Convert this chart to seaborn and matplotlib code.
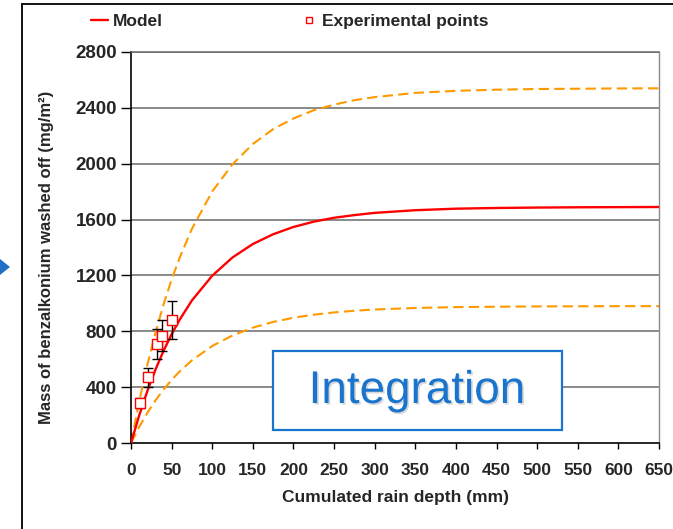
import matplotlib
matplotlib.use("Agg")
import matplotlib.pyplot as plt
import matplotlib.patches as mpatches
import matplotlib.patheffects as pe
from matplotlib.lines import Line2D
import seaborn as sns
import pandas as pd

# ---- data ----
rain_mm = [0, 10, 20, 30, 40, 50, 60, 75, 100, 125, 150, 175, 200, 225, 250, 275,
           300, 350, 400, 450, 500, 550, 600, 650]
model_mass = [0, 196, 370, 524, 659, 779, 884, 1021, 1198, 1329, 1425, 1495, 1547,
              1585, 1613, 1632, 1648, 1667, 1678, 1683, 1686, 1688, 1689, 1690]
upper_mass = [0, 295, 556, 787, 991, 1171, 1328, 1534, 1801, 1996, 2141, 2248, 2324,
              2383, 2423, 2455, 2477, 2507, 2522, 2530, 2535, 2537, 2539, 2540]
lower_mass = [0, 114, 215, 304, 382, 452, 513, 592, 695, 770, 826, 867, 897,
              919, 935, 947, 956, 967, 973, 976, 978, 979, 980, 980]

exp_rain = [11, 20.5, 31.5, 38.5, 50]
exp_mass = [284, 470, 708, 768, 880]
exp_err = [35, 67, 108, 110, 135]

x_ticks = [0, 50, 100, 150, 200, 250, 300, 350, 400, 450, 500, 550, 600, 650]
y_ticks = [0, 400, 800, 1200, 1600, 2000, 2400, 2800]

# ---- style ----
sns.set_theme(style="white")
plt.rcParams['font.family'] = ['Liberation Sans', 'DejaVu Sans']
plt.rcParams['font.weight'] = 'bold'

W, H = 673, 529
fig = plt.figure(figsize=(W / 100, H / 100), dpi=100)
ax = fig.add_axes([131 / W, 1 - 443 / H, (659 - 131) / W, (443 - 52) / H])

df = pd.DataFrame({"rain": rain_mm, "model": model_mass,
                   "upper": upper_mass, "lower": lower_mass})
exp_df = pd.DataFrame({"rain": exp_rain, "mass": exp_mass, "err": exp_err})

# grid
for yv in y_ticks[1:]:
    ax.axhline(yv, color="#6a6a6a", lw=1.1, zorder=0.5)

orange = "#FF9900"
sns.lineplot(data=df, x="rain", y="upper", ax=ax, color=orange, lw=1.5,
             linestyle=(0, (5, 2.5)), zorder=2)
sns.lineplot(data=df, x="rain", y="lower", ax=ax, color=orange, lw=1.5,
             linestyle=(0, (5, 2.5)), zorder=2)
sns.lineplot(data=df, x="rain", y="model", ax=ax, color="#FF0000", lw=1.7, zorder=3)

ax.errorbar(exp_df["rain"], exp_df["mass"], yerr=exp_df["err"], fmt="none",
            ecolor="black", elinewidth=1.0, capsize=3.5, capthick=1.0, zorder=4)
sns.scatterplot(data=exp_df, x="rain", y="mass", ax=ax, marker="s", s=45,
                facecolor="white", edgecolor="#FF0000", linewidth=1.0, zorder=5)

ax.set_xlim(0, 650)
ax.set_ylim(0, 2800)
ax.set_xticks(x_ticks)
ax.set_yticks(y_ticks)
ax.set_xticklabels([str(v) for v in x_ticks], fontsize=12.5, fontweight="bold")
ax.set_yticklabels([str(v) for v in y_ticks], fontsize=13.5, fontweight="bold")
ax.tick_params(axis="y", direction="out", length=7, width=1, color="black", pad=3, left=True)
ax.tick_params(axis="x", direction="out", length=4.5, width=1, color="black", pad=10, bottom=True)

for s in ["left", "bottom"]:
    ax.spines[s].set_color("black")
    ax.spines[s].set_linewidth(1.2)
ax.spines["right"].set_color("#8a8a8a")
ax.spines["right"].set_linewidth(1.0)
ax.spines["top"].set_color("#6a6a6a")
ax.spines["top"].set_linewidth(1.1)

ax.set_xlabel("Cumulated rain depth (mm)", fontsize=12.5, fontweight="bold")
ax.set_ylabel("Mass of benzalkonium washed off (mg/m²)", fontsize=12, fontweight="bold")
ax.xaxis.set_label_coords(0.5, -0.12)
ax.yaxis.set_label_coords(-0.145, 0.476)

# legend
handles = [Line2D([], [], color="#FF0000", lw=1.7),
           Line2D([], [], marker="s", color="none", markerfacecolor="white",
                  markeredgecolor="#FF0000", markersize=5, markeredgewidth=1.0)]
fig.legend(handles, ["Model", "Experimental points"], ncol=2,
           loc="center left", bbox_to_anchor=(91 / W, 1 - 21 / H), frameon=False,
           prop={"size": 12.5, "weight": "bold"}, handlelength=1.0, handletextpad=0.25,
           columnspacing=7.9, borderpad=0, borderaxespad=0)

# "Integration" box
box = mpatches.Rectangle((273 / W, 1 - 430 / H), 289 / W, 79 / H, transform=fig.transFigure,
                         facecolor="white", edgecolor="#1874CD", lw=1.6, zorder=10)
fig.add_artist(box)
t = fig.text(417 / W, 1 - 391 / H, "Integration", ha="center", va="center",
             fontsize=33, fontweight="normal", color="#1874CD", zorder=11)
t.set_path_effects([pe.withSimplePatchShadow(offset=(1.2, -1.2), shadow_rgbFace="gray", alpha=0.3)])

# outer frame and arrow
fig.add_artist(Line2D([21.5 / W, 21.5 / W], [0, 1 - 3.5 / H], transform=fig.transFigure,
                      color="black", lw=1.3))
fig.add_artist(Line2D([21.5 / W, 1], [1 - 3.5 / H, 1 - 3.5 / H], transform=fig.transFigure,
                      color="black", lw=1.3))
tri = mpatches.Polygon([(0, 1 - 259 / H), (10 / W, 1 - 267 / H), (0, 1 - 275 / H)],
                       closed=True, transform=fig.transFigure, facecolor="#1F6FC5",
                       edgecolor="none")
fig.add_artist(tri)

fig.savefig("out.png", dpi=100)
